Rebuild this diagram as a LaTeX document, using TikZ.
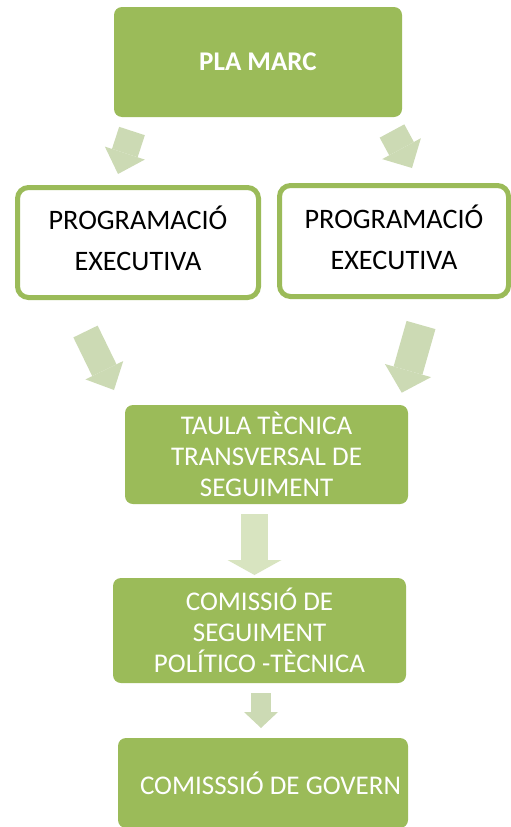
\documentclass[tikz,border=0pt]{standalone}
\usepackage{fontspec}
\setmainfont{Carlito}
\definecolor{olivegreen}{RGB}{155, 187, 89}
\definecolor{palegreen}{RGB}{204, 218, 180}
\definecolor{palergreen}{RGB}{216, 228, 192}
\usepackage{tikz}
\usetikzlibrary{arrows.meta}

\begin{document}
\begin{tikzpicture}[
            x=1pt, y=-1pt,
            greenbox/.style={fill=olivegreen, rounded corners=8pt, text=white,
                             align=center, inner sep=0pt, font=\fontsize{27}{31}\selectfont},
            linebox/.style={draw=olivegreen, line width=5pt, fill=white, rounded corners=11pt,
                            align=center, inner sep=0pt, font=\fontsize{28.2}{41}\selectfont},
            bigarr/.style n args={3}{draw=palegreen, line width=#1,
                                     -{Triangle[width=#2, length=#3, line width=0pt]}}
          ]
          \useasboundingbox (0,0) rectangle (511,827);
          \node[greenbox, minimum width=288pt, minimum height=110pt] (marc) at (258,62) {\textbf{PLA MARC}};
          \node[linebox, minimum width=241pt, minimum height=110pt] (prog1) at (138,242.5) {PROGRAMACIÓ\\EXECUTIVA\rule[-8pt]{0pt}{8pt}};
          \node[linebox, minimum width=229pt, minimum height=111pt] (prog2) at (394,241) {PROGRAMACIÓ\\EXECUTIVA\rule[-8pt]{0pt}{8pt}};
          \node[greenbox, minimum width=283pt, minimum height=99pt] (taula) at (266.5,454.5) {TAULA TÈCNICA\\TRANSVERSAL DE\\SEGUIMENT};
          \node[greenbox, minimum width=293pt, minimum height=105pt] (comissio) at (259.5,630.5) {COMISSIÓ DE\\SEGUIMENT\\POLÍTICO -TÈCNICA};
          \node[greenbox, minimum width=290pt, minimum height=90pt] (govern) at (263,783) {\hspace*{15pt}COMISSSIÓ DE GOVERN};
          \coordinate (marc-l) at (132,131);
          \coordinate (prog1-in) at (118,174);
          \coordinate (marc-r) at (392,131);
          \coordinate (prog2-in) at (412,168);
          \coordinate (prog1-out) at (85.5,331.5);
          \coordinate (taula-l) at (114,390);
          \coordinate (prog2-out) at (421,325);
          \coordinate (taula-r) at (401.7,392.7);
          \coordinate (taula-out) at (254.5,514);
          \coordinate (comissio-in) at (254.5,575);
          \coordinate (comissio-out) at (261,693);
          \coordinate (govern-in) at (261,728);
          \draw[bigarr={27pt}{42pt}{22pt}] (marc-l)--(prog1-in);
          \draw[bigarr={28pt}{44pt}{22pt}] (marc-r)--(prog2-in);
          \draw[bigarr={27pt}{42pt}{22pt}] (prog1-out)--(taula-l);
          \draw[bigarr={30pt}{48pt}{23pt}] (prog2-out)--(taula-r);
          \draw[bigarr={27pt}{54pt}{15pt}, draw=palergreen] (taula-out)--(comissio-in);
          \draw[bigarr={20pt}{34pt}{16pt}] (comissio-out)--(govern-in);
        \end{tikzpicture}
\end{document}
